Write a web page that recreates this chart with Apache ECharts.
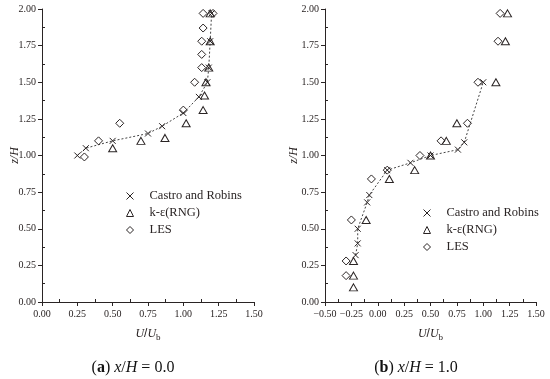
<!DOCTYPE html>
<html><head><meta charset="utf-8">
<script src="https://cdn.jsdelivr.net/npm/echarts@6/dist/echarts.min.js"></script>
<style>html,body{margin:0;padding:0;background:#fff}#c{width:550px;height:379px}</style>
</head><body><div id="c"></div>
<script>
// Panel (a) x/H = 0.0 : [U/Ub, z/H]
const castroA = [[0.25,1.00],[0.31,1.05],[0.50,1.10],[0.75,1.15],[0.85,1.20],[1.00,1.29],[1.11,1.40],[1.17,1.50],[1.18,1.60],[1.19,1.78],[1.20,1.97]];
const rngA = [[0.50,1.05],[0.70,1.10],[0.87,1.12],[1.02,1.22],[1.14,1.31],[1.15,1.41],[1.16,1.50],[1.18,1.60],[1.19,1.78],[1.19,1.97]];
const lesA = [[0.30,0.99],[0.40,1.10],[0.55,1.22],[1.00,1.31],[1.08,1.50],[1.13,1.60],[1.13,1.69],[1.13,1.78],[1.14,1.87],[1.14,1.97],[1.21,1.97]];
// Panel (b) x/H = 1.0
const castroB = [[-0.21,0.32],[-0.19,0.40],[-0.19,0.50],[-0.10,0.68],[-0.08,0.73],[0.09,0.90],[0.31,0.95],[0.50,1.00],[0.76,1.04],[0.82,1.09],[1.00,1.50]];
const rngB = [[-0.23,0.10],[-0.23,0.18],[-0.23,0.28],[-0.11,0.56],[0.11,0.84],[0.35,0.90],[0.50,1.00],[0.65,1.10],[0.75,1.22],[1.12,1.50],[1.21,1.78],[1.23,1.97]];
const lesB = [[-0.30,0.18],[-0.30,0.28],[-0.25,0.56],[-0.06,0.84],[0.09,0.90],[0.40,1.00],[0.60,1.10],[0.85,1.22],[0.95,1.50],[1.14,1.78],[1.16,1.97]];
const seriesNames = ['Castro and Robins','k-\u03b5(RNG)','LES'];
const xRangeA = [0, 1.5], xRangeB = [-0.5, 1.5], yRange = [0, 2];

const FONT = 'Liberation Serif';
const INK = '#2a2424';
const CROSS = 'path://M0,0L10,10M10,0L0,10';

function fmt(v){ const s = Math.abs(v).toFixed(2); return v < 0 ? '\u2212' + s : s; }

function xAxis(idx, r){
  return {
    type:'value', gridIndex: idx, min: r[0], max: r[1], interval: 0.25,
    axisLine:{show:true, onZero:false, lineStyle:{color:INK, width:1}},
    axisTick:{show:true, length:4, lineStyle:{color:INK}},
    minorTick:{show:true, splitNumber:2, length:-3, lineStyle:{color:INK}},
    splitLine:{show:false},
    axisLabel:{formatter:fmt, fontFamily:FONT, fontSize:10, color:INK, margin:7},
    name:'{i|U}/{i|U}{s|b}', nameLocation:'middle', nameGap:23, nameMoveOverlap:false,
    nameTextStyle:{rich:{i:{fontFamily:FONT, fontStyle:'italic', fontSize:12, color:INK},
                         s:{fontFamily:FONT, fontSize:9, color:INK, verticalAlign:'bottom', padding:[8,0,0,0]}}}
  };
}
function yAxis(idx, gap){
  return {
    type:'value', gridIndex: idx, min: yRange[0], max: yRange[1], interval: 0.25,
    axisLine:{show:true, onZero:false, lineStyle:{color:INK, width:1}},
    axisTick:{show:true, length:4, lineStyle:{color:INK}},
    minorTick:{show:true, splitNumber:2, length:-3, lineStyle:{color:INK}},
    splitLine:{show:false},
    axisLabel:{formatter:fmt, fontFamily:FONT, fontSize:10, color:INK, margin:6},
    name:'z/H', nameLocation:'middle', nameRotate:90, nameGap:gap, nameMoveOverlap:false,
    nameTextStyle:{fontFamily:FONT, fontStyle:'italic', fontSize:12, color:INK}
  };
}
function mk(name, data, idx, sym, size, line){
  return {
    name, type: 'line', xAxisIndex: idx, yAxisIndex: idx, data,
    symbol: sym, symbolSize: size, showSymbol:true,
    lineStyle: line ? {color:'#444', width:1, type:[2,2]} : {width:0, opacity:0},
    itemStyle:{color:'none', borderColor:INK, borderWidth:1},
    z: line ? 3 : 4, animation:false, silent:true
  };
}
function legend(left, top){
  return {
    orient:'vertical', left, top, padding:0, itemGap:3, itemWidth:7, itemHeight:7,
    selectedMode:false,
    itemStyle:{color:'none', borderColor:INK, borderWidth:1},
    lineStyle:{width:0, opacity:0},
    textStyle:{fontFamily:FONT, fontSize:12.5, color:INK, padding:[0,0,0,11], lineHeight:14},
    data:[
      {name:seriesNames[0], icon:CROSS},
      {name:seriesNames[1], icon:'triangle'},
      {name:seriesNames[2], icon:'diamond'}
    ]
  };
}
function subtitle(x, letter, val){
  return {
    text:'({b|' + letter + '}) {i|x}/{i|H} = ' + val, left:x, top:360, textAlign:'center', padding:0,
    textStyle:{fontFamily:FONT, fontSize:16, fontWeight:'normal', color:'#111',
      rich:{b:{fontFamily:FONT, fontSize:16, fontWeight:'bold', color:'#111'},
            i:{fontFamily:FONT, fontSize:16, fontStyle:'italic', color:'#111'}}}
  };
}

const chart = echarts.init(document.getElementById('c'), null, {renderer:'canvas'});
chart.setOption({
  backgroundColor:'#fff', animation:false,
  title:[subtitle(133,'a','0.0'), subtitle(416,'b','1.0')],
  legend:[legend(124,189), legend(421,206)],
  grid:[{left:42, top:9, width:212, height:293, containLabel:false},
        {left:325, top:9, width:211, height:293, containLabel:false}],
  xAxis:[xAxis(0,xRangeA), xAxis(1,xRangeB)],
  yAxis:[yAxis(0,21), yAxis(1,25)],
  series:[
    mk(seriesNames[0], castroA, 0, CROSS, 6, true),
    mk(seriesNames[1], rngA, 0, 'triangle', [8,7], false),
    mk(seriesNames[2], lesA, 0, 'diamond', [8,8], false),
    mk(seriesNames[0], castroB, 1, CROSS, 6, true),
    mk(seriesNames[1], rngB, 1, 'triangle', [8,7], false),
    mk(seriesNames[2], lesB, 1, 'diamond', [8,8], false)
  ]
});
</script></body></html>
